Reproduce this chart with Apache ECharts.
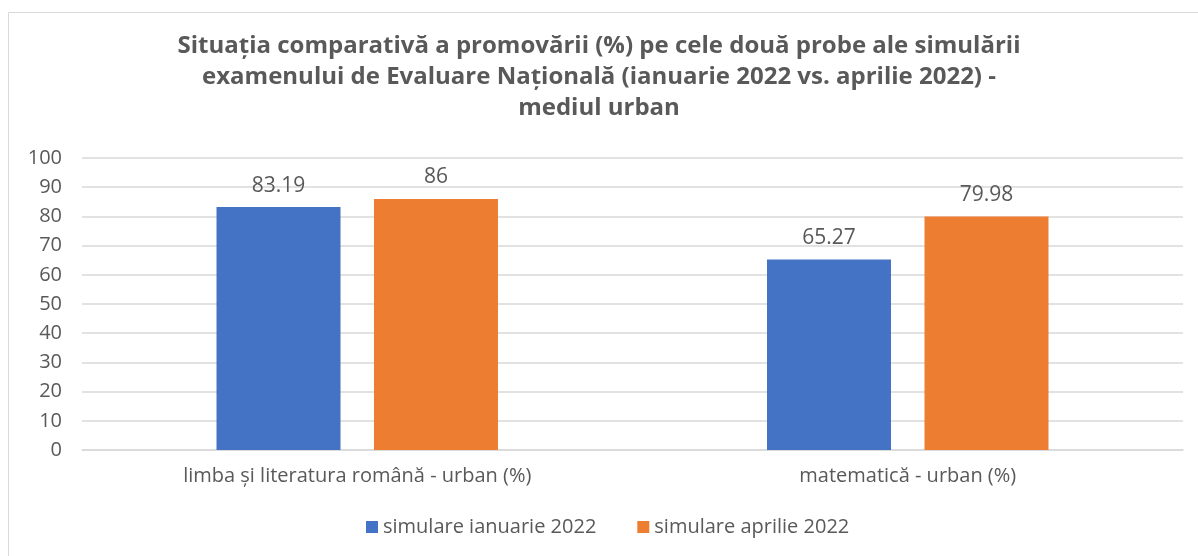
<!DOCTYPE html>
<html>
<head>
<meta charset="utf-8">
<script src="https://cdn.jsdelivr.net/npm/echarts@6/dist/echarts.min.js"></script>
<style>
  html, body { margin: 0; padding: 0; background: #fff; }
  #chart { width: 1198px; height: 556px; }
</style>
</head>
<body>
<div id="chart"></div>
<script>
var categories = ['limba și literatura română - urban (%)', 'matematică - urban (%)'];
var seriesNames = ['simulare ianuarie 2022', 'simulare aprilie 2022'];
var ianuarie = [83.19, 65.27];
var aprilie = [86, 79.98];
var yTicks = [0, 10, 20, 30, 40, 50, 60, 70, 80, 90, 100];

var chart = echarts.init(document.getElementById('chart'));
var textColor = '#595959';
var font = '"Open Sans", "Noto Sans", sans-serif';

option = {
    backgroundColor: '#fff',
    animation: false,
    graphic: [{
        type: 'rect',
        shape: { x: 8.5, y: 12.5, width: 1200, height: 560 },
        style: { fill: 'none', stroke: '#d9d9d9', lineWidth: 1 },
        silent: true
    }],
    title: {
        text: 'Situația comparativă a promovării (%) pe cele două probe ale simulării\nexamenului de Evaluare Națională (ianuarie 2022 vs. aprilie 2022) -\nmediul urban',
        left: 'center',
        top: 26,
        textStyle: {
            fontFamily: font,
            fontWeight: 'bold',
            fontSize: 24,
            lineHeight: 31,
            color: textColor
        }
    },
    legend: {
        bottom: 14,
        left: 361,
        itemWidth: 12,
        itemHeight: 12,
        itemGap: 41,
        icon: 'rect',
        textStyle: { fontFamily: font, fontSize: 20, color: textColor },
        data: seriesNames
    },
    grid: {
        left: 82,
        right: 15,
        top: 158,
        bottom: 106,
        containLabel: false
    },
    xAxis: {
        type: 'category',
        data: categories,
        axisLine: { lineStyle: { color: '#d9d9d9', width: 1.5 } },
        axisTick: { show: false },
        axisLabel: { fontFamily: font, fontSize: 20, color: textColor, margin: 16 }
    },
    yAxis: {
        type: 'value',
        min: yTicks[0],
        max: yTicks[yTicks.length - 1],
        interval: 10,
        axisLine: { show: false },
        axisTick: { show: false },
        splitLine: { lineStyle: { color: '#d9d9d9', width: 1.5 } },
        axisLabel: { fontFamily: font, fontSize: 20, color: textColor, margin: 20 }
    },
    series: [{
        name: seriesNames[0],
        type: 'bar',
        data: ianuarie,
        barWidth: 124,
        barGap: '27%',
        itemStyle: { color: '#4472C4' },
        label: { show: true, position: 'top', distance: 11, fontFamily: font, fontSize: 21, color: textColor }
    }, {
        name: seriesNames[1],
        type: 'bar',
        data: aprilie,
        barWidth: 124,
        barGap: '27%',
        itemStyle: { color: '#ED7D31' },
        label: { show: true, position: 'top', distance: 11, fontFamily: font, fontSize: 21, color: textColor }
    }]
};
chart.setOption(option);
window.addEventListener('resize', chart.resize);
</script>
</body>
</html>
